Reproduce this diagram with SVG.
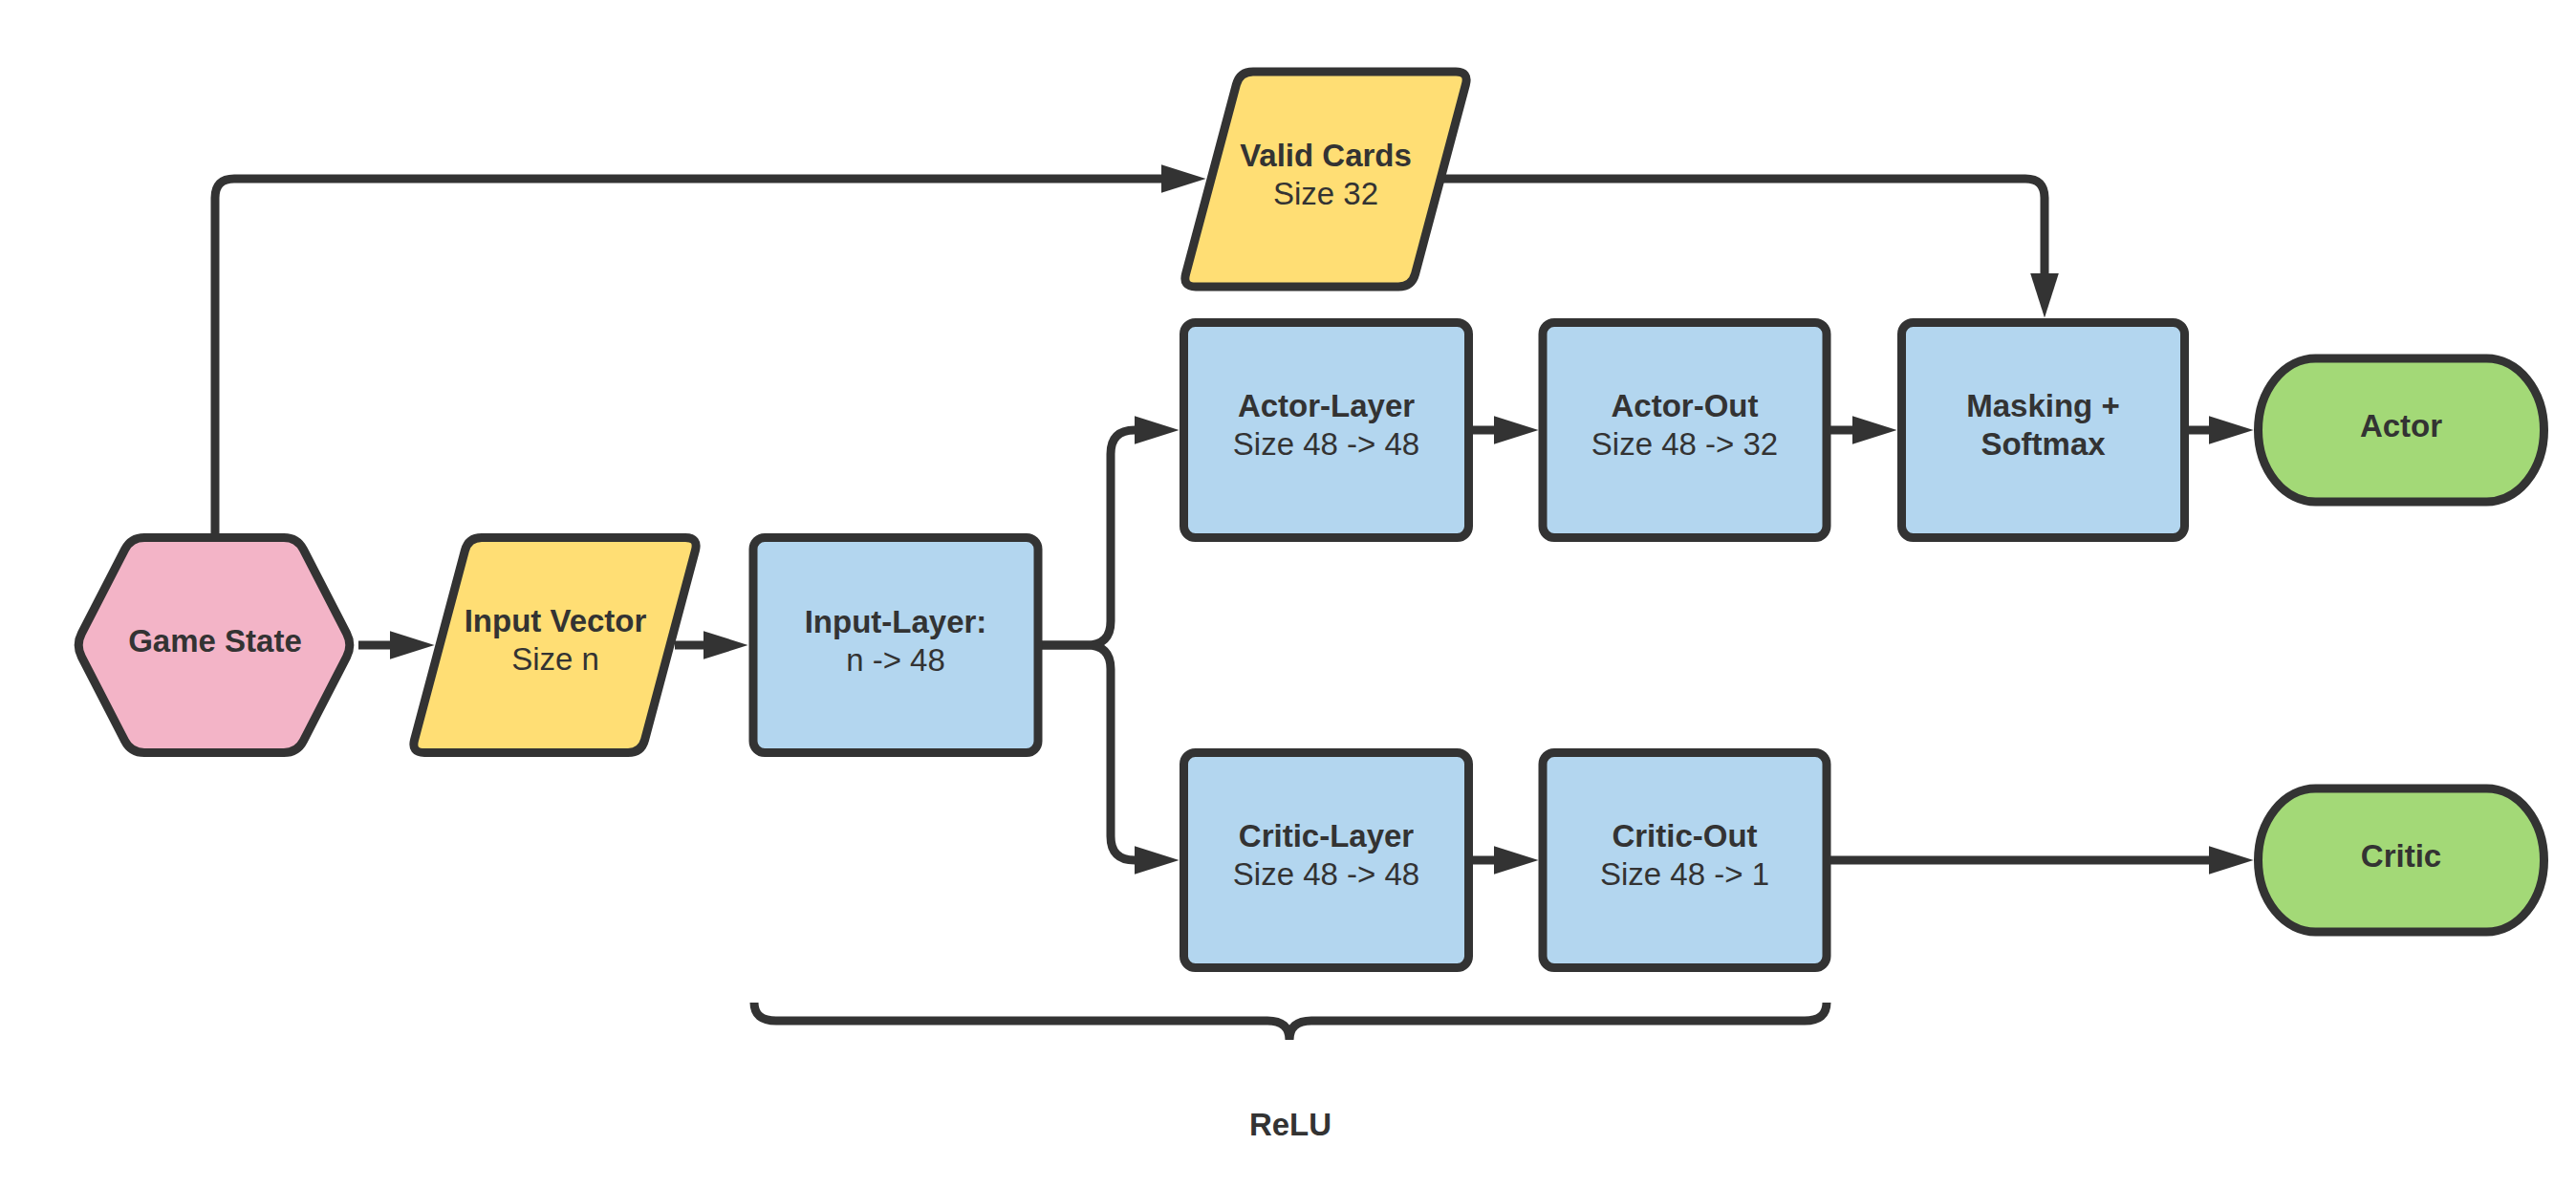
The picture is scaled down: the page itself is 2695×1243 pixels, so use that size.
<svg xmlns="http://www.w3.org/2000/svg" width="2695" height="1243" viewBox="0 0 2695 1243">
<style>
.n{stroke:#333333;stroke-width:9;stroke-linejoin:round}
.pink{fill:#F3B4C7}.yel{fill:#FFDE74}.blue{fill:#B3D6EF}.green{fill:#A3D977}
.c{fill:none;stroke:#333333;stroke-width:9}
text{font-family:"Liberation Sans",Arial,sans-serif;font-size:33px;fill:#333333;text-anchor:middle}
.b{font-weight:bold}
</style>
<defs>
<marker id="ah" markerUnits="userSpaceOnUse" markerWidth="48" markerHeight="30" refX="0.5" refY="15" orient="auto" viewBox="0 0 48 30">
<path d="M0,0 L47,15 L0,30 Z" fill="#333333"/>
</marker>
</defs>
<rect width="2695" height="1243" fill="#FFFFFF"/>
<g id="connectors">
<path class="c" d="M375 675 H408" marker-end="url(#ah)"/>
<path class="c" d="M706 675 H736" marker-end="url(#ah)"/>
<path class="c" d="M225 558 V207 Q225 187 245 187 H1215" marker-end="url(#ah)"/>
<path class="c" d="M1508 187 H2119 Q2139 187 2139 207 V286" marker-end="url(#ah)"/>
<path class="c" d="M1090 675 H1137 Q1162 675 1162 650 V475 Q1162 450 1187 450" marker-end="url(#ah)"/>
<path class="c" d="M1090 675 H1137 Q1162 675 1162 700 V875 Q1162 900 1187 900" marker-end="url(#ah)"/>
<path class="c" d="M1541 450 H1563" marker-end="url(#ah)"/>
<path class="c" d="M1915 450 H1938" marker-end="url(#ah)"/>
<path class="c" d="M2289 450 H2311" marker-end="url(#ah)"/>
<path class="c" d="M1541 900 H1563" marker-end="url(#ah)"/>
<path class="c" d="M1915 900 H2311" marker-end="url(#ah)"/>
</g>
<g id="game-state">
<path class="n pink" d="M151 562.5 H297 Q311 562.5 317.4 574.9 L362.6 662.6 Q369 675 362.6 687.4 L317.4 775.1 Q311 787.5 297 787.5 H151 Q137 787.5 130.6 775.1 L85.4 687.4 Q79 675 85.4 662.6 L130.6 574.9 Q137 562.5 151 562.5 Z"/>
<text class="b" x="225" y="682">Game State</text>
</g>
<g id="input-vector">
<path class="n yel" d="M504 562.5 H717 Q731 562.5 727.4 576 L674.6 774 Q671 787.5 657 787.5 H444 Q430 787.5 433.6 774 L486.4 576 Q490 562.5 504 562.5 Z"/>
<text class="b" x="581" y="661">Input Vector</text>
<text x="581" y="701">Size n</text>
</g>
<g id="input-layer">
<rect class="n blue" x="788" y="562.5" width="298" height="225" rx="12"/>
<text class="b" x="937" y="662">Input-Layer:</text>
<text x="937" y="702">n -&gt; 48</text>
</g>
<g id="valid-cards">
<path class="n yel" d="M1311 75 H1523 Q1537 75 1533.4 88.5 L1480.6 286.5 Q1477 300 1463 300 H1251 Q1237 300 1240.6 286.5 L1293.4 88.5 Q1297 75 1311 75 Z"/>
<text class="b" x="1387" y="173.5">Valid Cards</text>
<text x="1387" y="213.5">Size 32</text>
</g>
<g id="actor-layer">
<rect class="n blue" x="1238.5" y="337.5" width="298" height="225" rx="12"/>
<text class="b" x="1387.5" y="436">Actor-Layer</text>
<text x="1387.5" y="476">Size 48 -&gt; 48</text>
</g>
<g id="actor-out">
<rect class="n blue" x="1614" y="337.5" width="297" height="225" rx="12"/>
<text class="b" x="1762.5" y="436">Actor-Out</text>
<text x="1762.5" y="476">Size 48 -&gt; 32</text>
</g>
<g id="masking">
<rect class="n blue" x="1989.5" y="337.5" width="296" height="225" rx="12"/>
<text class="b" x="2137.5" y="436">Masking +</text>
<text class="b" x="2137.5" y="476">Softmax</text>
</g>
<g id="actor">
<rect class="n green" x="2362.5" y="375" width="299" height="150" rx="60" ry="75"/>
<text class="b" x="2512" y="457">Actor</text>
</g>
<g id="critic-layer">
<rect class="n blue" x="1238.5" y="787.5" width="298" height="225" rx="12"/>
<text class="b" x="1387.5" y="886">Critic-Layer</text>
<text x="1387.5" y="926">Size 48 -&gt; 48</text>
</g>
<g id="critic-out">
<rect class="n blue" x="1614" y="787.5" width="297" height="225" rx="12"/>
<text class="b" x="1762.5" y="886">Critic-Out</text>
<text x="1762.5" y="926">Size 48 -&gt; 1</text>
</g>
<g id="critic">
<rect class="n green" x="2362.5" y="825" width="299" height="150" rx="60" ry="75"/>
<text class="b" x="2512" y="907">Critic</text>
</g>
<g id="relu">
<path class="c" d="M789 1049 Q789 1068 812 1068 H1326 Q1349 1068 1349 1088 Q1349 1068 1372 1068 H1888 Q1911 1068 1911 1049"/>
<text class="b" x="1350" y="1188">ReLU</text>
</g>
</svg>
